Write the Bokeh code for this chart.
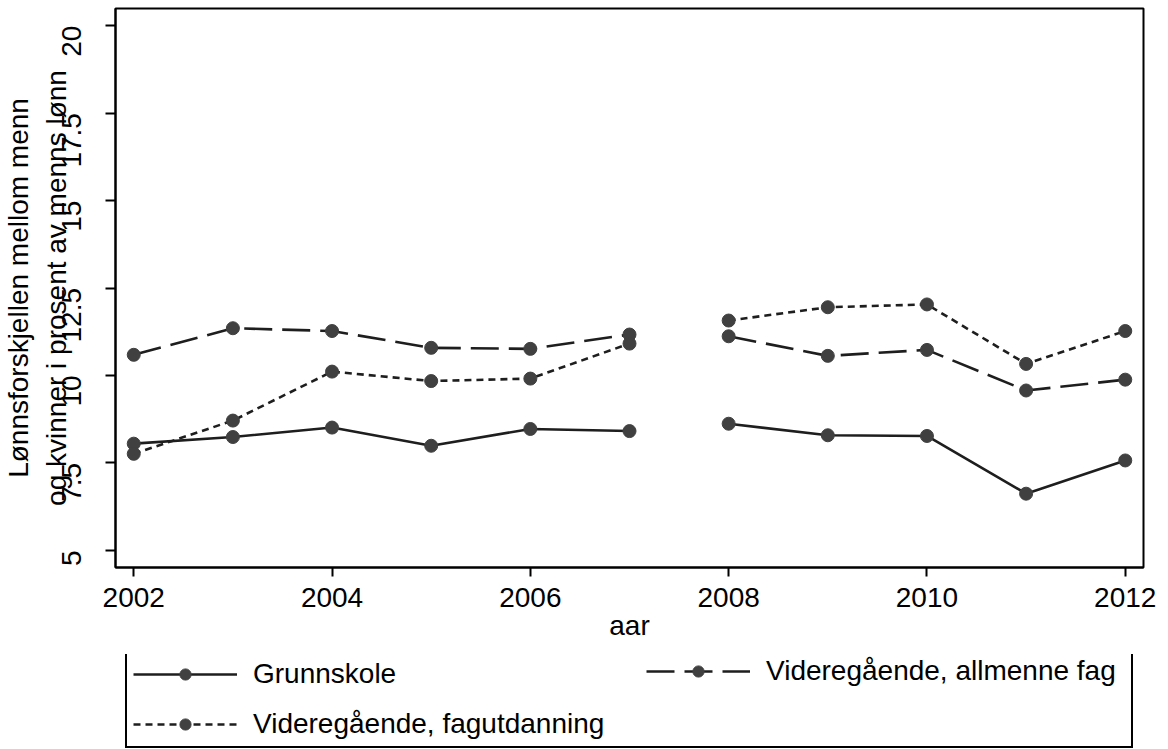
import math
from bokeh.plotting import figure
from bokeh.layouts import column
from bokeh.models import Range1d, FixedTicker, Legend, LegendItem
from bokeh.embed import file_html
from bokeh.resources import INLINE

# Wage gap between men and women, as percent of men's wage, by education level
years = [2002, 2003, 2004, 2005, 2006, 2007, 2008, 2009, 2010, 2011, 2012]
grunnskole = [8.05, 8.24, 8.51, 7.99, 8.47, 8.41, 8.62, 8.29, 8.27, 6.62, 7.57]
allmenne_fag = [10.59, 11.35, 11.27, 10.79, 10.76, 11.17, 11.12, 10.56, 10.73, 9.57, 9.88]
fagutdanning = [7.76, 8.71, 10.11, 9.84, 9.91, 10.91, 11.57, 11.95, 12.03, 10.33, 11.27]

series_names = ["Grunnskole", "Videregående, allmenne fag", "Videregående, fagutdanning"]
x_ticks = [2002, 2004, 2006, 2008, 2010, 2012]
y_ticks = [5, 7.5, 10, 12.5, 15, 17.5, 20]
y_tick_labels = ["5", "7.5", "10", "12.5", "15", "17.5", "20"]
break_after = 2007  # the series are not connected across this year

FONT = "Liberation Sans"
FS = "28px"
LINE = "#1e1e1e"
MARK = "#404040"
LINE_W = 2.6
MARK_SIZE = 13
BORDER_L, BORDER_R = 111, 25

p = figure(width=1168, height=654, output_backend="svg", toolbar_location=None,
           x_range=Range1d(2001.816, 2012.184), y_range=Range1d(4.51, 20.49),
           min_border_left=BORDER_L, min_border_right=BORDER_R, min_border_top=8,
           min_border_bottom=87)
p.background_fill_color = "white"
p.border_fill_color = "white"
p.outline_line_color = "black"
p.outline_line_width = 2
p.xgrid.visible = False
p.ygrid.visible = False

styles = ["solid", "28 10", "7 5"]
data = [grunnskole, allmenne_fag, fagutdanning]

for name, vals, dash in zip(series_names, data, styles):
    left = [(x, y) for x, y in zip(years, vals) if x <= break_after]
    right = [(x, y) for x, y in zip(years, vals) if x > break_after]
    for seg in (left, right):
        xs = [a for a, _ in seg]
        ys = [b for _, b in seg]
        p.line(xs, ys, line_color=LINE, line_width=LINE_W, line_dash=dash)
    p.scatter(years, vals, size=MARK_SIZE, fill_color=MARK, line_color=MARK, marker="circle")

# x axis
xa = p.xaxis[0]
xa.ticker = FixedTicker(ticks=x_ticks)
xa.minor_tick_line_color = None
xa.major_tick_out = 9
xa.major_tick_in = 0
xa.major_tick_line_width = 2
xa.major_tick_line_color = "black"
xa.axis_line_color = "black"
xa.axis_line_width = 2
xa.major_label_text_font = FONT
xa.major_label_text_font_size = FS
xa.major_label_text_color = "black"
xa.major_label_standoff = 11
xa.axis_label = "aar"
xa.axis_label_text_font = FONT
xa.axis_label_text_font_size = FS
xa.axis_label_text_font_style = "normal"
xa.axis_label_text_color = "black"
xa.axis_label_standoff = 0

# y axis
ya = p.yaxis[0]
ya.ticker = FixedTicker(ticks=y_ticks)
ya.major_label_overrides = {t: lab for t, lab in zip(y_ticks, y_tick_labels)}
ya.minor_tick_line_color = None
ya.major_tick_out = 10
ya.major_tick_in = 0
ya.major_tick_line_width = 2
ya.major_tick_line_color = "black"
ya.axis_line_color = "black"
ya.axis_line_width = 2
ya.major_label_orientation = math.pi / 2
ya.major_label_text_font = FONT
ya.major_label_text_font_size = FS
ya.major_label_text_color = "black"
ya.major_label_standoff = 34
ya.axis_label = "Lønnsforskjellen mellom menn\nog kvinner i prosent av menns lønn"
ya.axis_label_text_font = FONT
ya.axis_label_text_font_size = FS
ya.axis_label_text_font_style = "normal"
ya.axis_label_text_color = "black"
ya.axis_label_standoff = -22

# legend strip under the chart; the key glyphs reuse the series data, which
# falls outside this strip's ranges, so only the legend entries are visible
key = figure(width=1168, height=95, output_backend="svg", toolbar_location=None,
             x_range=Range1d(0, 1), y_range=Range1d(0, 1),
             x_axis_type=None, y_axis_type=None,
             min_border_left=BORDER_L, min_border_right=BORDER_R, min_border_top=0,
             min_border_bottom=0)
key.outline_line_color = None
key.background_fill_color = "white"
key.border_fill_color = "white"
key.xgrid.visible = False
key.ygrid.visible = False

items = {}
for name, vals, dash in zip(series_names, data, styles):
    ln = key.line(years, vals, line_color=LINE, line_width=LINE_W, line_dash=dash)
    mk = key.scatter(years, vals, size=MARK_SIZE, fill_color=MARK, line_color=MARK, marker="circle")
    items[name] = LegendItem(label=name, renderers=[ln, mk])


def style_legend(lg):
    lg.label_text_font = FONT
    lg.label_text_font_size = FS
    lg.label_text_color = "black"
    lg.glyph_width = 104
    lg.glyph_height = 28
    lg.label_height = 28
    lg.label_standoff = 16
    lg.spacing = 18
    lg.padding = 6
    lg.margin = 0


# first column, whose box is stretched to enclose the second column too
legend_a = Legend(items=[items[series_names[0]], items[series_names[2]]], location=(10, 1))
style_legend(legend_a)
legend_a.label_width = 872
legend_a.border_line_color = "black"
legend_a.border_line_alpha = 1
legend_a.border_line_width = 2
legend_a.background_fill_color = "white"
legend_a.background_fill_alpha = 1
key.add_layout(legend_a, "center")

# second column
legend_b = Legend(items=[items[series_names[1]]], location=(531, 62))
style_legend(legend_b)
legend_b.border_line_color = None
legend_b.background_fill_alpha = 0
key.add_layout(legend_b, "center")

layout = column(p, key, spacing=0)
open("out.html", "w").write(file_html(layout, INLINE))
